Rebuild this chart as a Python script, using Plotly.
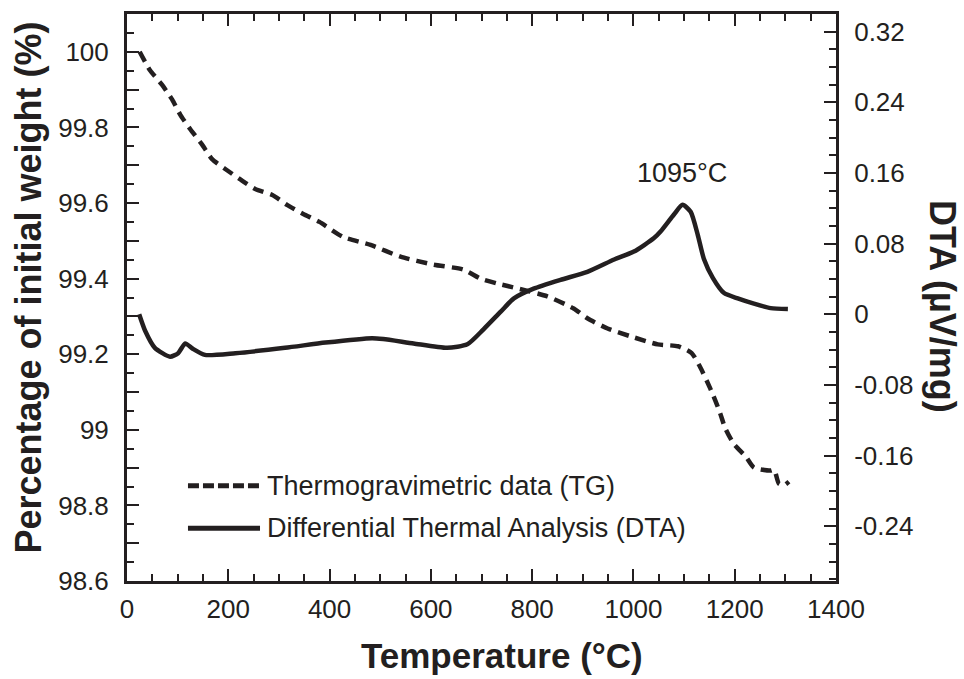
import plotly.graph_objects as go

# ---------------- data ----------------
tg_temp = [25, 45, 69, 89, 105, 125, 148, 168, 194, 223, 253, 287, 316, 348, 380, 427, 481,
           540, 605, 664, 698, 731, 771, 830, 882, 909, 949, 995, 1048, 1088, 1115, 1131, 1145,
           1158, 1171, 1181, 1198, 1222, 1238, 1271, 1278, 1287, 1297, 1307]
tg_weight = [100.0, 99.952, 99.913, 99.874, 99.834, 99.795, 99.755, 99.716, 99.69, 99.663, 99.637,
             99.621, 99.595, 99.571, 99.55, 99.51, 99.489, 99.458, 99.437, 99.424, 99.40, 99.387,
             99.374, 99.353, 99.321, 99.295, 99.268, 99.247, 99.226, 99.221, 99.203, 99.168, 99.129,
             99.09, 99.045, 99.005, 98.963, 98.929, 98.90, 98.892, 98.894, 98.858, 98.853, 98.863]

dta_temp = [24, 36, 55, 85, 101, 115, 130, 154, 214, 312, 392, 484, 506, 566, 632, 672, 704, 738,
            764, 803, 856, 909, 962, 1001, 1040, 1054, 1080, 1097, 1113, 1127, 1139, 1157, 1179,
            1206, 1238, 1271, 1305]
dta_signal = [0.0, -0.019, -0.038, -0.048, -0.044, -0.033, -0.039, -0.046, -0.044, -0.038, -0.032,
              -0.027, -0.028, -0.033, -0.038, -0.034, -0.017, 0.003, 0.018, 0.029, 0.039, 0.048,
              0.062, 0.071, 0.086, 0.094, 0.113, 0.124, 0.116, 0.090, 0.063, 0.041, 0.024, 0.018,
              0.012, 0.007, 0.006]

x_ticks = [0, 200, 400, 600, 800, 1000, 1200, 1400]
left_ticks = [round(98.6 + 0.1 * i, 2) for i in range(15)]
left_text = ["98.6", "", "98.8", "", "99", "", "99.2", "", "99.4", "", "99.6", "", "99.8", "", "100"]
right_ticks = [-0.24, -0.16, -0.08, 0, 0.08, 0.16, 0.24, 0.32]
right_text = ["-0.24", "-0.16", "-0.08", "0", "0.08", "0.16", "0.24", "0.32"]

x_title = "Temperature (°C)"
y_title = "Percentage of initial weight (%)"
y2_title = "DTA (µV/mg)"
peak_label = "1095°C"
peak_temp = 1095
legend_labels = ["Thermogravimetric data (TG)", "Differential Thermal Analysis (DTA)"]

INK = "#231f20"
FONT = "Liberation Sans, Arial, sans-serif"

fig = go.Figure()
fig.add_trace(go.Scatter(x=tg_temp, y=tg_weight, mode="lines", name=legend_labels[0],
                         line=dict(color=INK, width=4.5, dash="11px,7px", shape="spline", smoothing=0.6),
                         yaxis="y", showlegend=False))
fig.add_trace(go.Scatter(x=dta_temp, y=dta_signal, mode="lines", name=legend_labels[1],
                         line=dict(color=INK, width=4.5, shape="spline", smoothing=0.6),
                         yaxis="y2", showlegend=False))

axis_common = dict(showline=True, linecolor=INK, linewidth=3, ticks="inside", tickcolor=INK,
                   tickwidth=2, ticklen=12, showgrid=False, zeroline=False,
                   tickfont=dict(family=FONT, size=26, color=INK))

fig.update_layout(
    width=964, height=679,
    margin=dict(l=127, r=128, t=11, b=98),
    paper_bgcolor="white", plot_bgcolor="white",
    font=dict(family=FONT, color=INK),
    xaxis=dict(range=[0, 1400], tickvals=x_ticks, mirror="ticks", ticklabelstandoff=3,
               minor=dict(dtick=50, tick0=0, ticks="inside", ticklen=7, tickwidth=2, tickcolor=INK),
               **axis_common),
    yaxis=dict(range=[98.6, 100.1], tickvals=left_ticks, ticktext=left_text, ticklabelstandoff=10,
               minor=dict(dtick=0.05, tick0=98.6, ticks="inside", ticklen=7, tickwidth=2, tickcolor=INK),
               **axis_common),
    yaxis2=dict(range=[-0.302, 0.340], overlaying="y", side="right", anchor="x",
                tickvals=right_ticks, ticktext=right_text, ticklabelstandoff=10,
                minor=dict(dtick=0.02, tick0=0, ticks="inside", ticklen=7, tickwidth=2, tickcolor=INK),
                **axis_common),
)

title_font = dict(size=35, color=INK, family=FONT)
# x axis title
fig.add_annotation(text="<b>" + x_title + "</b>", xref="paper", yref="paper", x=0.5, y=0,
                   xshift=20, yshift=-74, showarrow=False, font=title_font,
                   xanchor="center", yanchor="middle", borderpad=0)
# left axis title
fig.add_annotation(text="<b>" + y_title + "</b>", xref="paper", yref="paper", x=0, y=0.5,
                   xshift=-99, yshift=10, textangle=-90, showarrow=False,
                   font=dict(size=36, color=INK, family=FONT),
                   xanchor="center", yanchor="middle")
# right axis title (reads top to bottom)
fig.add_annotation(text="<b>" + y2_title + "</b>", xref="paper", yref="paper", x=1, y=0.485,
                   xshift=107, textangle=90, showarrow=False,
                   font=dict(size=36, color=INK, family=FONT),
                   xanchor="center", yanchor="middle")

# peak label
fig.add_annotation(text=peak_label, x=peak_temp, y=max(dta_signal), xref="x", yref="y2",
                   yshift=32, showarrow=False, font=dict(size=27, color=INK, family=FONT))

# legend (drawn in the plot area)
leg_x0, leg_x1, leg_tx = 0.086, 0.1876, 0.1946
leg_rows = [0.168, 0.093]
fig.add_shape(type="line", xref="paper", yref="paper", x0=leg_x0, x1=leg_x1, y0=leg_rows[0], y1=leg_rows[0],
              line=dict(color=INK, width=5, dash="11px,4px"))
fig.add_shape(type="line", xref="paper", yref="paper", x0=leg_x0, x1=leg_x1, y0=leg_rows[1], y1=leg_rows[1],
              line=dict(color=INK, width=5))
for lab, yy in zip(legend_labels, leg_rows):
    fig.add_annotation(text=lab, xref="paper", yref="paper", x=leg_tx, y=yy, xanchor="left",
                       yanchor="middle", showarrow=False, font=dict(size=27, color=INK, family=FONT))

fig.write_html("out.html")
